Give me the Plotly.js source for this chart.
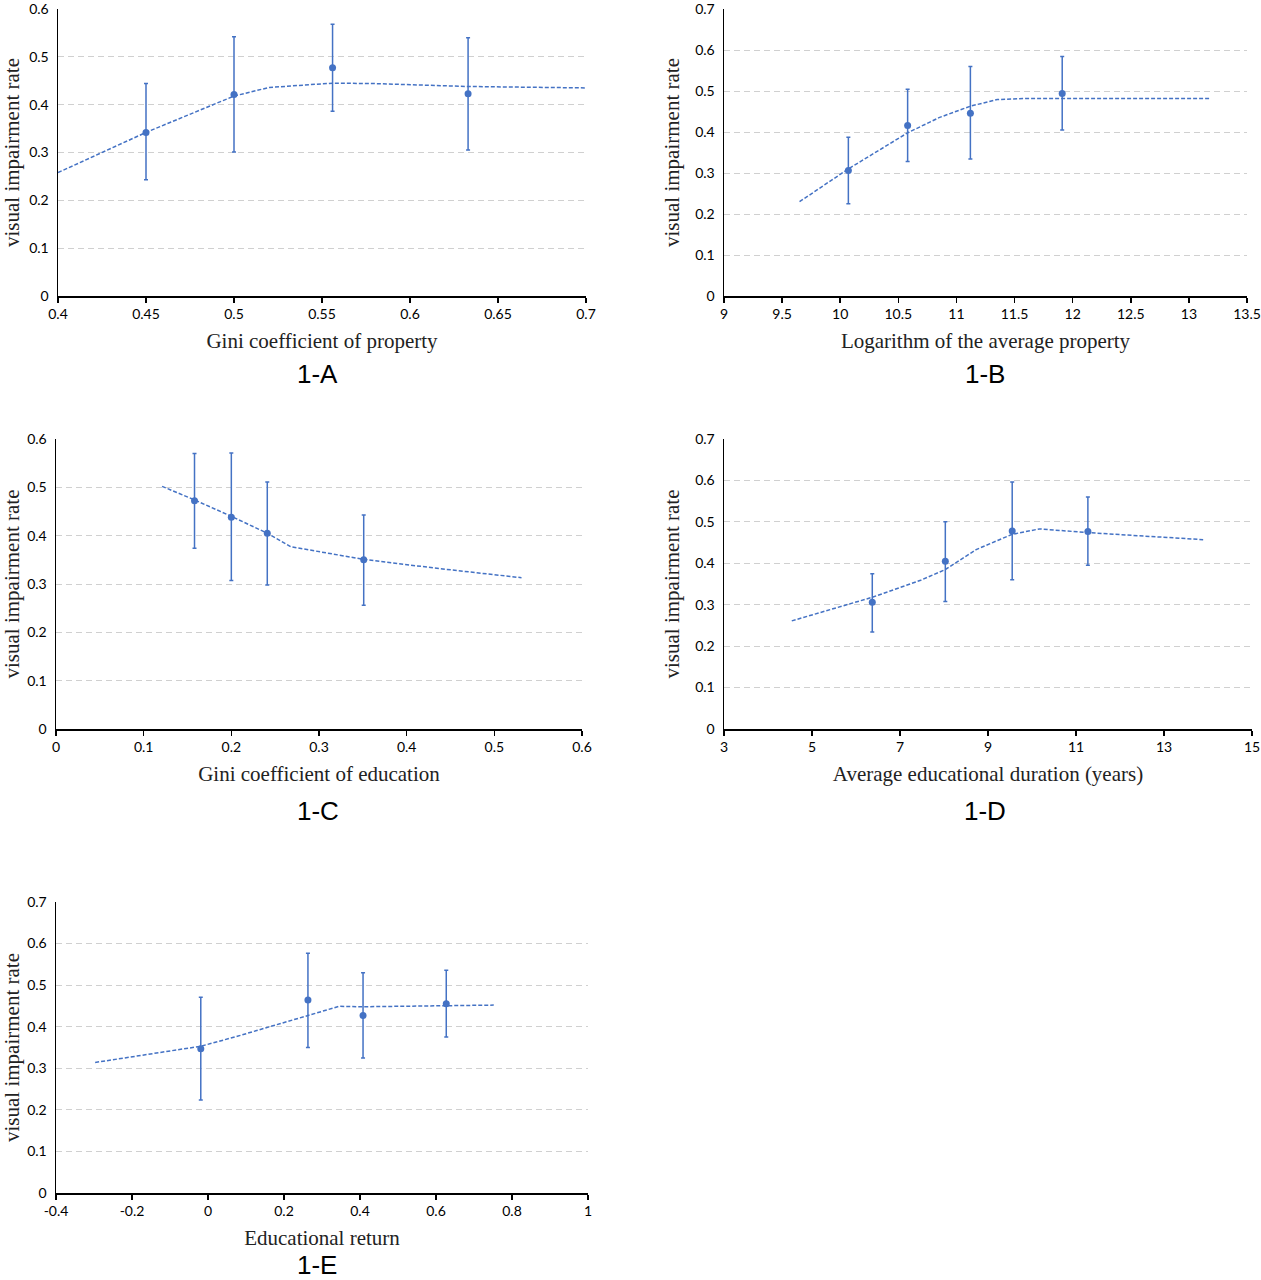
<!DOCTYPE html>
<html>
<head>
<meta charset="utf-8">
<script src="https://cdn.plot.ly/plotly-3.0.1.min.js"></script>
<style>
  html, body { margin: 0; padding: 0; background: #fff; }
  #chart { width: 1261px; height: 1280px; }
</style>
</head>
<body>
<div id="chart"></div>
<script>
// 1-A  Gini coefficient of property
const aX = [0.45, 0.5, 0.556, 0.633];
const aY = [0.342, 0.421, 0.477, 0.423];
const aUp = [0.444, 0.542, 0.568, 0.540];
const aLow = [0.243, 0.301, 0.386, 0.305];
const aFitX = [0.4, 0.45, 0.5, 0.52, 0.556, 0.58, 0.633, 0.7];
const aFitY = [0.258, 0.342, 0.418, 0.436, 0.445, 0.444, 0.438, 0.435];
const aTicks = [0.4, 0.45, 0.5, 0.55, 0.6, 0.65, 0.7];

// 1-B  Logarithm of the average property
const bX = [10.07, 10.58, 11.12, 11.91];
const bY = [0.306, 0.416, 0.446, 0.494];
const bUp = [0.387, 0.504, 0.560, 0.584];
const bLow = [0.225, 0.328, 0.334, 0.405];
const bFitX = [9.65, 10.07, 10.58, 10.85, 11.12, 11.35, 11.6, 12.0, 13.18];
const bFitY = [0.230, 0.310, 0.398, 0.435, 0.463, 0.479, 0.482, 0.482, 0.482];
const bTicks = [9, 9.5, 10, 10.5, 11, 11.5, 12, 12.5, 13, 13.5];

// 1-C  Gini coefficient of education
const cX = [0.158, 0.2, 0.241, 0.351];
const cY = [0.472, 0.438, 0.405, 0.350];
const cUp = [0.570, 0.571, 0.511, 0.443];
const cLow = [0.374, 0.307, 0.298, 0.256];
const cFitX = [0.121, 0.158, 0.2, 0.241, 0.268, 0.351, 0.432, 0.531];
const cFitY = [0.502, 0.474, 0.440, 0.405, 0.377, 0.351, 0.333, 0.313];
const cTicks = [0, 0.1, 0.2, 0.3, 0.4, 0.5, 0.6];

// 1-D  Average educational duration (years)
const dX = [6.37, 8.03, 9.55, 11.27];
const dY = [0.306, 0.405, 0.478, 0.477];
const dUp = [0.375, 0.500, 0.596, 0.560];
const dLow = [0.234, 0.308, 0.360, 0.395];
const dFitX = [4.54, 6.37, 7.47, 8.03, 8.73, 9.55, 10.17, 11.27, 13.89];
const dFitY = [0.261, 0.318, 0.359, 0.385, 0.433, 0.470, 0.483, 0.474, 0.457];
const dTicks = [3, 5, 7, 9, 11, 13, 15];

// 1-E  Educational return
const eX = [-0.019, 0.263, 0.408, 0.627];
const eY = [0.347, 0.464, 0.427, 0.455];
const eUp = [0.471, 0.577, 0.530, 0.536];
const eLow = [0.224, 0.350, 0.325, 0.375];
const eFitX = [-0.297, -0.019, 0.077, 0.263, 0.345, 0.408, 0.627, 0.752];
const eFitY = [0.314, 0.353, 0.377, 0.428, 0.449, 0.448, 0.450, 0.452];
const eTicks = [-0.4, -0.2, 0, 0.2, 0.4, 0.6, 0.8, 1];
const eTickText = ['-0.4', '-0.2', '0', '0.2', '0.4', '0.6', '0.8', '1'];

// y ticks (rate)
const yTicks6 = [0, 0.1, 0.2, 0.3, 0.4, 0.5, 0.6];
const yTicks7 = [0, 0.1, 0.2, 0.3, 0.4, 0.5, 0.6, 0.7];

const blue = '#4472C4';

function panelTraces(n, x, y, up, low, fitX, fitY) {
  const xa = n === 1 ? 'x' : 'x' + n;
  const ya = n === 1 ? 'y' : 'y' + n;
  return [
    {
      x: fitX, y: fitY, xaxis: xa, yaxis: ya,
      type: 'scatter', mode: 'lines', hoverinfo: 'skip',
      line: { color: blue, width: 1.5, dash: '4px,2px' },
    },
    {
      x: x, y: y, xaxis: xa, yaxis: ya,
      type: 'scatter', mode: 'markers',
      marker: { color: blue, size: 7 },
      error_y: {
        type: 'data', symmetric: false,
        array: up.map((v, i) => v - y[i]),
        arrayminus: low.map((v, i) => y[i] - v),
        color: blue, thickness: 1.5, width: 2,
      },
    },
  ];
}

const data = [
  ...panelTraces(1, aX, aY, aUp, aLow, aFitX, aFitY),
  ...panelTraces(2, bX, bY, bUp, bLow, bFitX, bFitY),
  ...panelTraces(3, cX, cY, cUp, cLow, cFitX, cFitY),
  ...panelTraces(4, dX, dY, dUp, dLow, dFitX, dFitY),
  ...panelTraces(5, eX, eY, eUp, eLow, eFitX, eFitY),
];

const W = 1261, H = 1280;
const px = (a, b) => [a / W, b / W];
const py = (top, bottom) => [1 - bottom / H, 1 - top / H];

const tickFont = { family: 'Lato, "Open Sans", sans-serif', size: 14, color: '#000' };
const titleFont = { family: '"Liberation Serif", serif', size: 21, color: '#222' };

function xAxis(domain, anchor, range, ticks, title, ticktext) {
  return {
    domain: domain, anchor: anchor, range: range,
    tickmode: 'array', tickvals: ticks, ticktext: ticktext || ticks.map(String),
    ticks: 'outside', ticklen: 5, tickwidth: 1.5, tickcolor: '#000',
    showline: true, linecolor: '#000', linewidth: 1.5,
    showgrid: false, zeroline: false, tickfont: tickFont,
    ticklabeloverflow: 'allow',
    title: { text: title, font: titleFont, standoff: 12 },
  };
}

function yAxis(domain, anchor, ticks) {
  return {
    domain: domain, anchor: anchor, range: [0, ticks[ticks.length - 1]],
    tickmode: 'array', tickvals: ticks, ticktext: ticks.map(String),
    ticks: '', showline: true, linecolor: '#000', linewidth: 1.5,
    showgrid: true, gridcolor: '#d0d0d0', gridwidth: 1, griddash: '6px,4px',
    zeroline: false, tickfont: tickFont, ticklabelstandoff: 5,
    ticklabeloverflow: 'allow',
    title: { text: 'visual impairment rate', font: titleFont, standoff: 10 },
  };
}

const labelFont = { family: '"Liberation Sans", Arial, sans-serif', size: 26, color: '#000' };
const panelLabel = (text, x, y) => ({
  text: text, xref: 'paper', yref: 'paper', x: x / W, y: 1 - y / H,
  showarrow: false, font: labelFont, xanchor: 'center', yanchor: 'middle',
});

const layout = {
  width: W, height: H,
  margin: { l: 0, r: 0, t: 0, b: 0 },
  paper_bgcolor: '#fff', plot_bgcolor: '#fff',
  showlegend: false,
  xaxis: xAxis(px(58, 586), 'y', [0.4, 0.7], aTicks, 'Gini coefficient of property'),
  yaxis: yAxis(py(9, 296), 'x', yTicks6),
  xaxis2: xAxis(px(724, 1247), 'y2', [9, 13.5], bTicks, 'Logarithm of the average property'),
  yaxis2: yAxis(py(9, 296), 'x2', yTicks7),
  xaxis3: xAxis(px(56, 582), 'y3', [0, 0.6], cTicks, 'Gini coefficient of education'),
  yaxis3: yAxis(py(439, 729), 'x3', yTicks6),
  xaxis4: xAxis(px(724, 1252), 'y4', [3, 15], dTicks, 'Average educational duration (years)'),
  yaxis4: yAxis(py(439, 729), 'x4', yTicks7),
  xaxis5: xAxis(px(56, 588), 'y5', [-0.4, 1], eTicks, 'Educational return', eTickText),
  yaxis5: yAxis(py(902, 1193), 'x5', yTicks7),
  annotations: [
    panelLabel('1-A', 317, 374),
    panelLabel('1-B', 985, 374),
    panelLabel('1-C', 318, 811),
    panelLabel('1-D', 985, 811),
    panelLabel('1-E', 317, 1265),
  ],
};

Plotly.newPlot('chart', data, layout, { displayModeBar: false, staticPlot: true });
</script>
</body>
</html>
